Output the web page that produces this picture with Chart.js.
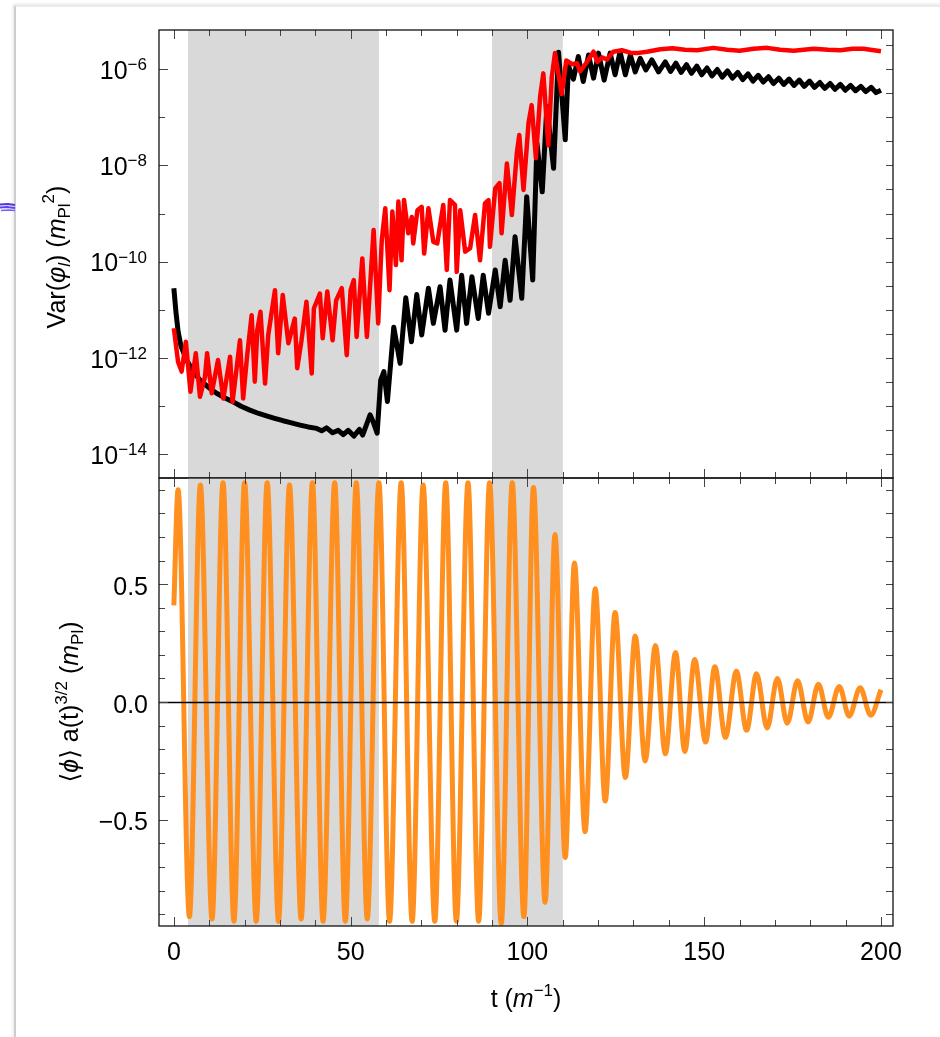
<!DOCTYPE html>
<html>
<head>
<meta charset="utf-8">
<script src="https://cdn.jsdelivr.net/npm/chart.js@4.4.1/dist/chart.umd.min.js"></script>
<style>
html,body{margin:0;padding:0;background:#fff;width:940px;height:1037px;overflow:hidden;position:relative}
#card{position:absolute;left:14px;top:5px;width:960px;height:1060px;border-left:2px solid #cdcdcd;border-top:2px solid #ebebeb;box-shadow:-1px -1px 3px rgba(0,0,0,0.10)}
#scribble{position:absolute;left:0;top:198px}
canvas{position:absolute;left:0}
#cTop{top:0;width:940px;height:500px}
#cBot{top:460px;width:940px;height:577px}
</style>
</head>
<body>
<div id="card"></div>
<svg id="scribble" width="16" height="20" viewBox="0 0 16 20">
  <polyline points="0,6.5 8,6 15,7" fill="none" stroke="#4f35e8" stroke-width="2"/>
  <polyline points="0,9.5 7,9 15,10" fill="none" stroke="#5d44f0" stroke-width="2"/>
  <polyline points="1,12.5 9,12 15,12.5" fill="none" stroke="#7560f5" stroke-width="1.5"/>
</svg>
<canvas id="cTop" width="940" height="500"></canvas>
<canvas id="cBot" width="940" height="577"></canvas>
<script>
// ---------------- data ----------------
// time axis t (1/m)
const tBlack = [
  0, 0.6, 1.2, 2.0, 3.6, 5.5, 7.4, 10, 12.1, 14.5,
  16.8, 19, 21.5, 24, 26.2, 28.5, 30.9, 33, 35.7, 38,
  40.4, 41.8, 43.2, 44.9, 46.5, 47.9, 49.3, 50.9, 52.5, 53.4,
  55.5, 56.2, 57.5, 58.5, 59.4, 60.4, 62.2, 64.0, 65.6, 67.2,
  68.7, 70.1, 72.0, 73.4, 75.3, 76.7, 78.1, 80.0, 81.4, 82.8,
  84.3, 86.1, 87.5, 89.0, 90.9, 92.3, 93.7, 95.1, 96.5, 98.4,
  99.8, 101.5, 102.7, 104.2, 105.5, 107.4, 108.8, 110.7, 111.6, 113.0,
  114.4, 115.8, 117.3, 118.7, 120.1, 121.7, 123.4, 124.8, 126.2, 127.7,
  129.1, 130.5, 131.9, 133.5, 135.2, 137.1, 139.0, 140.5, 142.0, 143.5,
  145.0, 146.4, 147.9, 149.3, 150.8, 152.2, 153.7, 155.1, 156.6, 158.0,
  159.5, 160.9, 162.4, 163.8, 165.3, 166.7, 168.2, 169.6, 171.1, 172.5,
  174.0, 175.4, 176.9, 178.3, 179.8, 181.2, 182.7, 184.1, 185.6, 187.0,
  188.5, 189.9, 191.4, 192.8, 194.3, 195.7, 197.2, 198.6, 200.0
];
// Var(phi_l) black series (m_Pl^2)
const varBlack = [
  2.82e-11, 8.91e-12, 3.55e-12, 1.78e-12, 9.12e-13, 5.25e-13, 3.47e-13, 2.40e-13, 1.86e-13, 1.48e-13,
  1.23e-13, 1.00e-13, 8.32e-14, 7.08e-14, 6.31e-14, 5.62e-14, 5.01e-14, 4.57e-14, 4.07e-14, 3.72e-14,
  3.47e-14, 3.09e-14, 3.55e-14, 2.82e-14, 3.16e-14, 2.57e-14, 3.16e-14, 2.40e-14, 3.31e-14, 2.51e-14,
  6.61e-14, 5.13e-14, 2.75e-14, 3.47e-13, 5.25e-13, 1.26e-13, 4.37e-12, 7.76e-13, 1.78e-11, 2.19e-12,
  2.09e-11, 3.02e-12, 2.82e-11, 5.25e-12, 3.02e-11, 3.80e-12, 4.17e-11, 3.80e-12, 5.25e-11, 5.25e-12,
  4.90e-11, 6.61e-12, 5.25e-11, 8.51e-12, 6.76e-11, 1.17e-11, 1.07e-10, 1.58e-11, 3.31e-10, 1.74e-11,
  2.24e-9, 4.17e-11, 2.88e-8, 2.82e-9, 1.66e-7, 8.71e-9, 2.24e-6, 3.39e-8, 1.17e-6, 6.17e-7,
  1.82e-6, 5.50e-7, 1.95e-6, 6.46e-7, 2.14e-6, 5.89e-7, 2.14e-6, 7.59e-7, 2.29e-6, 7.59e-7,
  1.95e-6, 8.71e-7, 1.66e-6, 9.55e-7, 1.55e-6, 8.71e-7, 1.41e-6, 8.91e-7, 1.32e-6, 8.51e-7,
  1.23e-6, 8.13e-7, 1.15e-6, 7.59e-7, 1.05e-6, 7.24e-7, 9.77e-7, 6.76e-7, 9.12e-7, 6.46e-7,
  8.51e-7, 6.03e-7, 7.94e-7, 5.62e-7, 7.41e-7, 5.37e-7, 6.92e-7, 5.01e-7, 6.46e-7, 4.79e-7,
  6.17e-7, 4.57e-7, 5.89e-7, 4.37e-7, 5.62e-7, 4.17e-7, 5.25e-7, 3.98e-7, 5.01e-7, 3.80e-7,
  4.79e-7, 3.63e-7, 4.57e-7, 3.55e-7, 4.37e-7, 3.39e-7, 4.17e-7, 3.24e-7, 3.63e-7
];
const tRed = [
  0, 1.2, 2.2, 3.4, 4.7, 6.2, 7.4, 8.8, 9.4, 10.7,
  12.5, 14.0, 15.9, 16.6, 18.7, 19.6, 20.7, 22.0, 22.9, 23.6,
  24.5, 25.8, 26.7, 28.6, 29.5, 30.8, 32.4, 34.2, 34.9, 36.1,
  37.5, 39.0, 39.6, 41.3, 42.1, 43.4, 44.9, 45.9, 47.5, 48.9,
  50.0, 50.9, 51.7, 53.3, 54.6, 56.5, 57.8, 58.8, 59.8, 61.0,
  61.8, 62.8, 63.5, 64.4, 65.1, 66.3, 67.3, 67.7, 68.9, 70.1,
  70.8, 72.0, 73.4, 74.5, 76.2, 77.2, 78.1, 79.5, 80.0, 81.0,
  82.4, 83.8, 85.2, 86.6, 88.0, 89.0, 89.4, 90.9, 92.1, 92.7,
  94.2, 95.6, 97.0, 97.7, 98.9, 100.3, 101.2, 102.4, 103.6, 104.5,
  105.9, 106.9, 107.8, 109.7, 111.0, 112.6, 114.0, 114.9, 116.6, 118.7,
  119.8, 121.1, 122.5, 124.3, 126.7, 129.1, 131.0, 133.8, 137.6, 141,
  144.5, 148, 152.6, 156.5, 160, 164, 167.8, 171.5, 175.3, 181,
  185, 188.5, 192, 195, 200
];
// Var(phi_l) red series (m_Pl^2)
const varRed = [
  4.17e-12, 8.32e-13, 5.25e-13, 2.19e-12, 2.00e-13, 1.26e-12, 1.58e-13, 4.07e-13, 1.26e-12, 1.86e-13,
  9.12e-13, 1.45e-13, 1.07e-12, 1.23e-13, 2.34e-12, 1.45e-13, 1.07e-12, 7.76e-12, 3.24e-13, 3.80e-12,
  9.12e-12, 2.95e-13, 3.02e-12, 2.57e-11, 1.26e-12, 2.04e-11, 2.04e-12, 6.61e-12, 6.17e-13, 2.34e-12,
  1.48e-11, 4.79e-13, 1.07e-11, 2.19e-11, 2.57e-12, 2.40e-11, 2.34e-12, 1.58e-11, 2.82e-11, 1.15e-12,
  2.57e-11, 4.17e-11, 2.75e-12, 1.17e-10, 2.75e-12, 4.57e-10, 5.25e-12, 2.82e-10, 1.29e-9, 2.57e-11,
  1.10e-9, 8.51e-11, 1.78e-9, 1.07e-10, 1.91e-9, 3.89e-10, 8.51e-10, 2.40e-10, 1.17e-9, 1.38e-9,
  1.48e-10, 1.29e-9, 2.57e-10, 2.40e-10, 1.51e-9, 6.76e-11, 1.91e-9, 1.51e-9, 6.17e-11, 1.17e-9,
  1.62e-10, 1.91e-10, 9.33e-10, 1.07e-10, 1.62e-9, 1.91e-9, 2.04e-10, 3.31e-9, 4.27e-9, 3.89e-10,
  1.10e-8, 9.33e-10, 1.78e-8, 4.27e-8, 3.09e-9, 7.41e-8, 1.78e-7, 1.41e-8, 2.69e-7, 8.13e-7,
  2.63e-8, 6.92e-7, 2.14e-6, 3.02e-7, 1.51e-6, 1.26e-6, 1.32e-6, 8.91e-7, 1.32e-6, 2.29e-6,
  1.41e-6, 1.74e-6, 1.58e-6, 2.29e-6, 2.45e-6, 2.19e-6, 2.14e-6, 2.29e-6, 2.57e-6, 2.69e-6,
  2.51e-6, 2.45e-6, 2.75e-6, 2.51e-6, 2.40e-6, 2.63e-6, 2.75e-6, 2.51e-6, 2.40e-6, 2.63e-6,
  2.51e-6, 2.45e-6, 2.63e-6, 2.63e-6, 2.34e-6
];
// <phi> a(t)^{3/2} (m_Pl): extrema of the oscillation
const tPhi = [
  0, 1.2, 4.4, 7.5, 10.8, 13.9, 17.0, 20.0, 23.3, 26.4,
  29.6, 32.7, 36.0, 39.2, 42.2, 45.5, 48.5, 51.6, 54.7, 58.0,
  61.0, 64.3, 67.4, 70.5, 73.8, 76.9, 79.9, 83.2, 86.2, 89.3,
  92.6, 95.7, 99.0, 101.7, 105.0, 107.8, 110.7, 113.3, 116.3, 119.2,
  122.0, 124.8, 127.7, 130.5, 133.3, 136.2, 139.0, 141.9, 144.5, 147.3,
  150.4, 153.0, 156.0, 159.1, 162.0, 164.8, 167.8, 170.7, 173.5, 176.4,
  179.4, 182.3, 185.1, 188.2, 191.0, 194.1, 197.1, 200.0
];
const phiMean = [
  0.41, 0.90, -0.91, 0.92, -0.92, 0.93, -0.93, 0.93, -0.93, 0.93,
  -0.93, 0.92, -0.92, 0.93, -0.93, 0.93, -0.93, 0.93, -0.92, 0.93,
  -0.93, 0.93, -0.93, 0.92, -0.93, 0.93, -0.93, 0.93, -0.93, 0.93,
  -0.94, 0.93, -0.91, 0.91, -0.85, 0.71, -0.66, 0.59, -0.55, 0.48,
  -0.42, 0.38, -0.32, 0.28, -0.25, 0.24, -0.22, 0.21, -0.21, 0.18,
  -0.17, 0.15, -0.15, 0.13, -0.12, 0.12, -0.11, 0.10, -0.09, 0.09,
  -0.085, 0.075, -0.065, 0.066, -0.06, 0.06, -0.056, 0.052
];
// shaded time windows
const shadedWindows = [[4, 58], [90, 110]];
// ticks
const xMajorTicks = [0, 50, 100, 150, 200];
const xTickLabels = ['0', '50', '100', '150', '200'];
const xMinorTicks = [10, 20, 30, 40, 60, 70, 80, 90, 110, 120, 130, 140, 160, 170, 180, 190];
const varTickValues = [1e-6, 1e-8, 1e-10, 1e-12, 1e-14];
const varTickExponents = ['\u22126', '\u22128', '\u221210', '\u221212', '\u221214'];
const varMinorTicks = [1e-7, 1e-9, 1e-11, 1e-13];
const varRightTicks = [3.16e-6, 1e-6, 3.16e-7, 1e-7, 3.16e-8, 1e-8, 3.16e-9, 1e-9, 3.16e-10, 1e-10,
  3.16e-11, 1e-11, 3.16e-12, 1e-12, 3.16e-13, 1e-13, 3.16e-14, 1e-14];
const phiTickValues = [0.5, 0, -0.5];
const phiTickLabels = ['0.5', '0.0', '\u22120.5'];
const phiMinorTicks = [0.9, 0.8, 0.7, 0.6, 0.4, 0.3, 0.2, 0.1, -0.1, -0.2, -0.3, -0.4, -0.6, -0.7, -0.8, -0.9];
const phiRightTicks = [0.9, 0.8, 0.7, 0.6, 0.5, 0.4, 0.3, 0.2, 0.1, 0, -0.1, -0.2, -0.3, -0.4, -0.5, -0.6, -0.7, -0.8, -0.9];

// ---------------- styling helpers ----------------
const FONT = "'Liberation Sans', Arial, Helvetica, 'DejaVu Sans', sans-serif";
const fBig = '25px ' + FONT, fBigI = 'italic 25px ' + FONT;
const fSm = '17px ' + FONT, fSmI = 'italic 17px ' + FONT;
const SHADE = '#d9d9d9';
const TICK = '#444';
const FRAME = '#111';

function runsWidth(ctx, runs) {
  let w = 0;
  runs.forEach(r => { ctx.font = r.f; r.w = ctx.measureText(r.t).width; w += r.w; });
  return w;
}
function drawRuns(ctx, runs, x, y, align) {
  const w = runsWidth(ctx, runs);
  let cx = align === 'center' ? x - w / 2 : (align === 'right' ? x - w : x);
  ctx.textAlign = 'left';
  ctx.textBaseline = 'alphabetic';
  runs.forEach(r => { ctx.font = r.f; ctx.fillText(r.t, cx, y + (r.dy || 0)); cx += r.w; });
}
const px = v => Math.round(v) + 0.5;

function shadePlugin() {
  return {
    id: 'shade',
    beforeDatasetsDraw(chart) {
      const { ctx, chartArea: a, scales: { x } } = chart;
      ctx.save();
      ctx.fillStyle = SHADE;
      shadedWindows.forEach(([t0, t1]) => {
        const x0 = x.getPixelForValue(t0), x1 = x.getPixelForValue(t1);
        ctx.fillRect(x0, a.top, x1 - x0, a.bottom - a.top);
      });
      ctx.restore();
    }
  };
}

function xTicks(ctx, a, x) {
  xMajorTicks.forEach(t => {
    const p = px(x.getPixelForValue(t));
    ctx.moveTo(p, a.top); ctx.lineTo(p, a.top + 9);
    ctx.moveTo(p, a.bottom); ctx.lineTo(p, a.bottom - 9);
  });
  xMinorTicks.forEach(t => {
    const p = px(x.getPixelForValue(t));
    ctx.moveTo(p, a.top); ctx.lineTo(p, a.top + 6);
    ctx.moveTo(p, a.bottom); ctx.lineTo(p, a.bottom - 6);
  });
}

const topAxes = {
  id: 'topAxes',
  afterDatasetsDraw(chart) {
    const { ctx, chartArea: a, scales: { x, y } } = chart;
    ctx.save();
    ctx.strokeStyle = TICK; ctx.lineWidth = 1;
    ctx.beginPath();
    xTicks(ctx, a, x);
    varTickValues.forEach(v => { const p = px(y.getPixelForValue(v)); ctx.moveTo(a.left, p); ctx.lineTo(a.left + 9, p); });
    varMinorTicks.forEach(v => { const p = px(y.getPixelForValue(v)); ctx.moveTo(a.left, p); ctx.lineTo(a.left + 6, p); });
    varRightTicks.forEach(v => { const p = px(y.getPixelForValue(v)); ctx.moveTo(a.right, p); ctx.lineTo(a.right - 7, p); });
    ctx.stroke();
    ctx.strokeStyle = FRAME; ctx.lineWidth = 1.3;
    ctx.strokeRect(a.left, a.top, a.right - a.left, a.bottom - a.top);
    // tick labels
    ctx.fillStyle = '#000';
    varTickValues.forEach((v, i) => {
      const p = y.getPixelForValue(v);
      drawRuns(ctx, [{ t: '10', f: fBig }, { t: varTickExponents[i], f: fSm, dy: -8.5 }], a.left - 12, p + 9.5, 'right');
    });
    // y title
    ctx.save();
    ctx.translate(65, 257);
    ctx.rotate(-Math.PI / 2);
    drawRuns(ctx, [
      { t: 'Var(', f: fBig }, { t: '\u03C6', f: fBigI }, { t: 'l', f: fSmI, dy: 5 }, { t: ')', f: fBig },
      { t: ' (', f: fBig }, { t: 'm', f: fBigI }, { t: 'Pl', f: fSm, dy: 5 }, { t: '2', f: fSm, dy: -11 }, { t: ')', f: fBig }
    ], 0, 0, 'center');
    ctx.restore();
    ctx.restore();
  }
};

const botAxes = {
  id: 'botAxes',
  afterDatasetsDraw(chart) {
    const { ctx, chartArea: a, scales: { x, y } } = chart;
    ctx.save();
    // zero axis line
    const z = px(y.getPixelForValue(0));
    ctx.strokeStyle = '#000'; ctx.lineWidth = 1.5;
    ctx.beginPath(); ctx.moveTo(a.left, z); ctx.lineTo(a.right, z); ctx.stroke();
    ctx.strokeStyle = TICK; ctx.lineWidth = 1;
    ctx.beginPath();
    xTicks(ctx, a, x);
    phiTickValues.forEach(v => { const p = px(y.getPixelForValue(v)); ctx.moveTo(a.left, p); ctx.lineTo(a.left + 9, p); });
    phiMinorTicks.forEach(v => { const p = px(y.getPixelForValue(v)); ctx.moveTo(a.left, p); ctx.lineTo(a.left + 6, p); });
    phiRightTicks.forEach(v => { const p = px(y.getPixelForValue(v)); ctx.moveTo(a.right, p); ctx.lineTo(a.right - 7, p); });
    ctx.stroke();
    ctx.strokeStyle = FRAME; ctx.lineWidth = 1.3;
    ctx.strokeRect(a.left, a.top, a.right - a.left, a.bottom - a.top);
    ctx.fillStyle = '#000';
    phiTickValues.forEach((v, i) => {
      const p = y.getPixelForValue(v);
      drawRuns(ctx, [{ t: phiTickLabels[i], f: fBig }], a.left - 11, p + 10.5, 'right');
    });
    xMajorTicks.forEach((t, i) => {
      drawRuns(ctx, [{ t: xTickLabels[i], f: fBig }], x.getPixelForValue(t), a.bottom + 34, 'center');
    });
    // x title
    drawRuns(ctx, [{ t: 't (', f: fBig }, { t: 'm', f: fBigI }, { t: '\u22121', f: fSm, dy: -11 }, { t: ')', f: fBig }],
      (a.left + a.right) / 2, a.bottom + 81, 'center');
    // y title
    ctx.save();
    ctx.translate(78, (a.top + a.bottom) / 2);
    ctx.rotate(-Math.PI / 2);
    drawRuns(ctx, [
      { t: '\u27E8', f: fBig }, { t: '\u03D5', f: fBigI }, { t: '\u27E9', f: fBig }, { t: ' a(t)', f: fBig },
      { t: '3/2', f: fSm, dy: -11 }, { t: ' (', f: fBig }, { t: 'm', f: fBigI }, { t: 'Pl', f: fSm, dy: 5 }, { t: ')', f: fBig }
    ], 0, 0, 'center');
    ctx.restore();
    ctx.restore();
  }
};

const xScale = { type: 'linear', min: -4.2, max: 203.4, bounds: 'data', display: false };
const baseOptions = {
  responsive: false, maintainAspectRatio: false, animation: false, devicePixelRatio: 1, events: [],
  plugins: { legend: { display: false }, tooltip: { enabled: false }, title: { display: false } },
  elements: { point: { radius: 0, hoverRadius: 0 }, line: { borderJoinStyle: 'round', borderCapStyle: 'butt' } }
};

new Chart(document.getElementById('cTop'), {
  type: 'line',
  data: {
    datasets: [
      { data: tBlack.map((t, i) => ({ x: t, y: varBlack[i] })), borderColor: '#000', borderWidth: 5, tension: 0, order: 1 },
      { data: tRed.map((t, i) => ({ x: t, y: varRed[i] })), borderColor: '#ff0000', borderWidth: 4.5, tension: 0, order: 0 }
    ]
  },
  options: Object.assign({}, baseOptions, {
    layout: { padding: { left: 159, right: 47, top: 30, bottom: 22 } },
    scales: {
      x: xScale,
      y: { type: 'logarithmic', min: 3.24e-15, max: 6.46e-6, bounds: 'data', display: false }
    }
  }),
  plugins: [shadePlugin(), topAxes]
});

new Chart(document.getElementById('cBot'), {
  type: 'line',
  data: {
    datasets: [
      { data: tPhi.map((t, i) => ({ x: t, y: phiMean[i] })), borderColor: '#ff8f1f', borderWidth: 5, cubicInterpolationMode: 'monotone' }
    ]
  },
  options: Object.assign({}, baseOptions, {
    layout: { padding: { left: 159, right: 47, top: 18, bottom: 111 } },
    scales: {
      x: xScale,
      y: { type: 'linear', min: -0.95, max: 0.95, bounds: 'data', display: false }
    }
  }),
  plugins: [shadePlugin(), botAxes]
});
</script>
</body>
</html>
